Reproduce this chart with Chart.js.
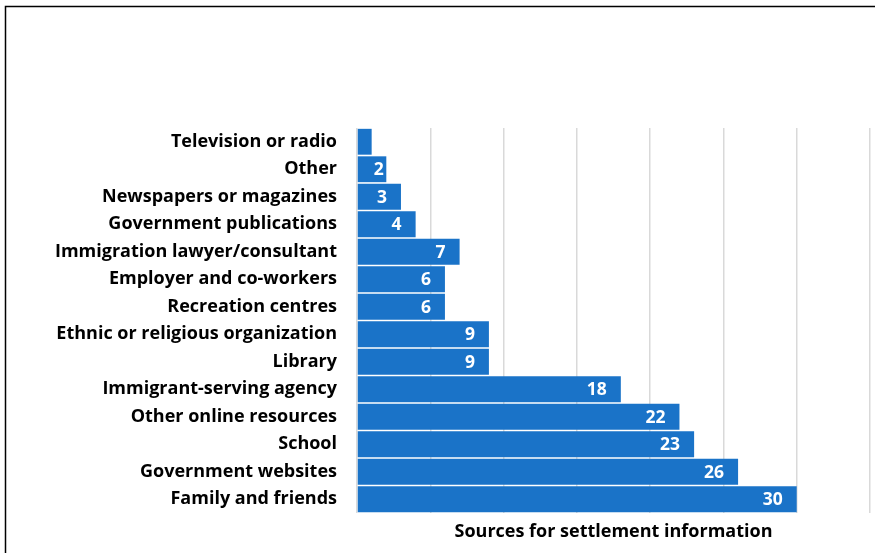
<!DOCTYPE html>
<html>
<head>
<meta charset="utf-8">
<script src="https://cdn.jsdelivr.net/npm/chart.js@4/dist/chart.umd.min.js"></script>
<style>
  html, body { margin: 0; padding: 0; background: #fff; }
  #wrap { position: relative; width: 875px; height: 553px; }
</style>
</head>
<body>
<div id="wrap"><canvas id="chart" width="875" height="553"></canvas></div>
<script>
// Where newcomers get settlement information
const categories = [
  'Television or radio',
  'Other',
  'Newspapers or magazines',
  'Government publications',
  'Immigration lawyer/consultant',
  'Employer and co-workers',
  'Recreation centres',
  'Ethnic or religious organization',
  'Library',
  'Immigrant-serving agency',
  'Other online resources',
  'School',
  'Government websites',
  'Family and friends'
];
const counts = [1, 2, 3, 4, 7, 6, 6, 9, 9, 18, 22, 23, 26, 30];
const axisTitle = 'Sources for settlement information';

const FONT = '"Open Sans", Lato, "Liberation Sans", sans-serif';
const BAR_BLUE = '#1a73c8';

// Thin frame along the top and left edges
const framePlugin = {
  id: 'frame',
  beforeDraw(chart) {
    const ctx = chart.ctx;
    ctx.save();
    ctx.fillStyle = '#fff';
    ctx.fillRect(0, 0, chart.width, chart.height);
    ctx.strokeStyle = '#000';
    ctx.lineWidth = 1.5;
    ctx.beginPath();
    ctx.moveTo(5.5, chart.height);
    ctx.lineTo(5.5, 6.5);
    ctx.lineTo(chart.width, 6.5);
    ctx.stroke();
    ctx.restore();
  }
};

// White value labels inside the end of each bar
const valueLabels = {
  id: 'valueLabels',
  afterDatasetsDraw(chart) {
    const ctx = chart.ctx;
    const meta = chart.getDatasetMeta(0);
    const data = chart.data.datasets[0].data;
    ctx.save();
    ctx.font = 'bold 17.5px ' + FONT;
    ctx.fillStyle = '#fff';
    ctx.textBaseline = 'middle';
    ctx.textAlign = 'left';
    meta.data.forEach((bar, i) => {
      const txt = String(data[i]);
      const w = ctx.measureText(txt).width;
      const end = bar.x, base = bar.base;
      if (base + 16 + w > end - 2) return;
      let left = end - 14 - w;
      if (left < base + 16) left = base + 16;
      ctx.fillText(txt, left, bar.y + 1);
    });
    ctx.restore();
  }
};

new Chart(document.getElementById('chart'), {
  type: 'bar',
  data: {
    labels: categories,
    datasets: [{
      data: counts,
      backgroundColor: BAR_BLUE,
      borderWidth: 0,
      barPercentage: 1,
      categoryPercentage: 0.94
    }]
  },
  options: {
    indexAxis: 'y',
    responsive: false,
    animation: false,
    layout: { padding: { top: 128, right: 5, bottom: 0, left: 0 } },
    plugins: {
      legend: { display: false },
      tooltip: { enabled: false }
    },
    scales: {
      x: {
        min: 0,
        max: 35,
        ticks: { display: false, stepSize: 5 },
        grid: { color: '#d9d9d9', lineWidth: 1.5, drawTicks: false },
        border: { display: false },
        title: {
          display: true,
          text: axisTitle,
          color: '#000',
          font: { family: FONT, size: 18, weight: 'bold' },
          padding: { top: 0, bottom: 10 }
        },
        afterFit(scale) { scale.height = 40; }
      },
      y: {
        grid: { display: false },
        border: { display: false },
        ticks: {
          color: '#000',
          padding: 12,
          autoSkip: false,
          font: { family: FONT, size: 18, weight: 'bold' }
        },
        afterFit(scale) { scale.width = 357; }
      }
    }
  },
  plugins: [framePlugin, valueLabels]
});
</script>
</body>
</html>
